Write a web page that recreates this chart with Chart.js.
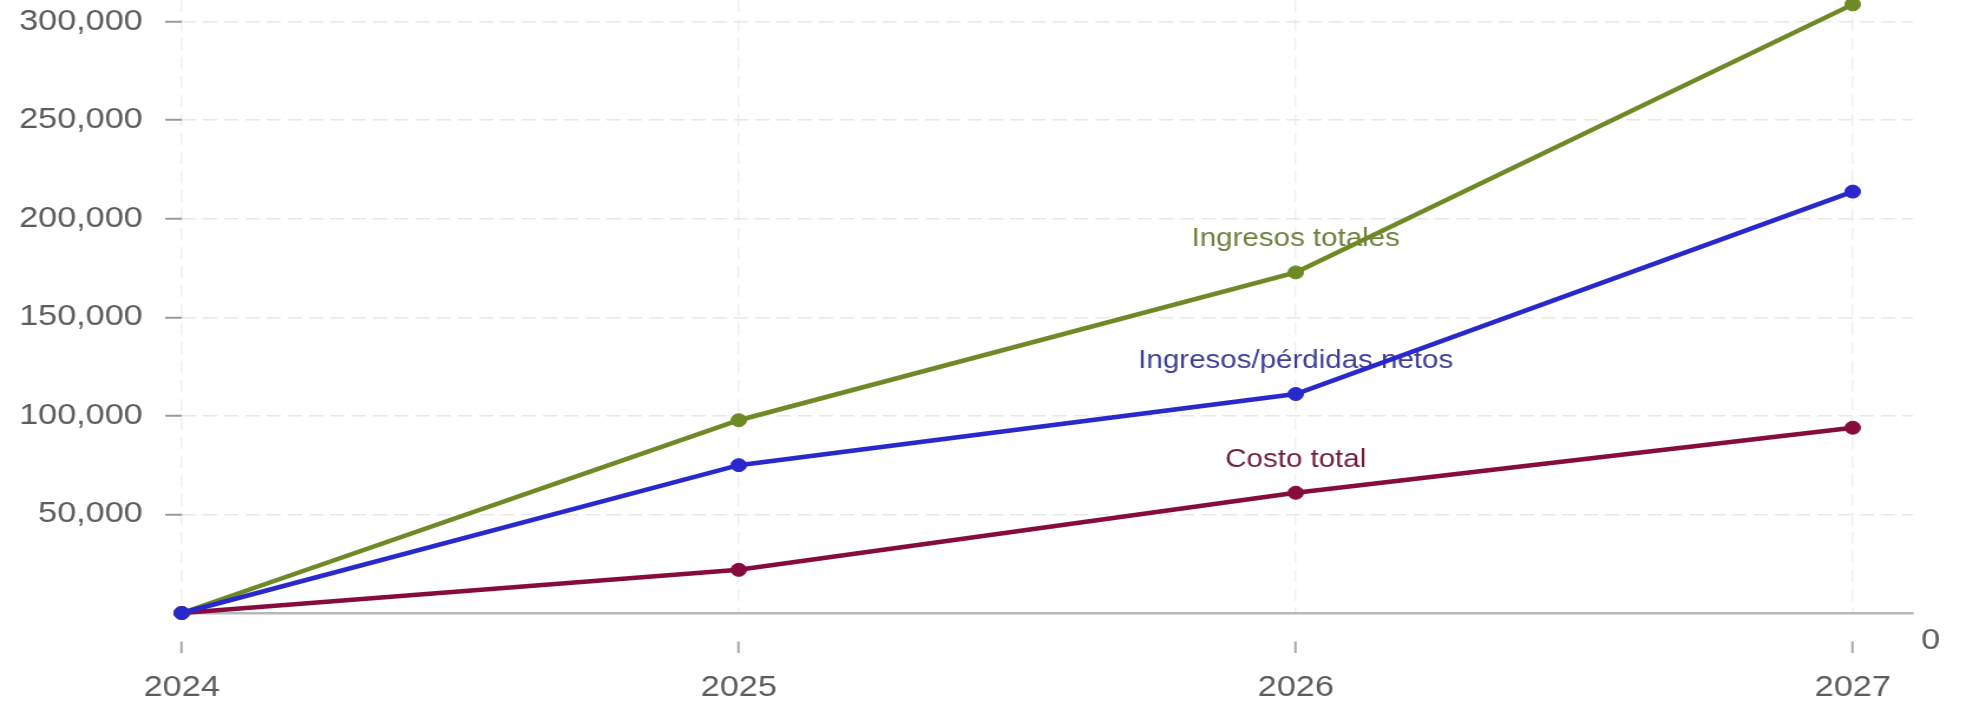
<!DOCTYPE html>
<html>
<head>
<meta charset="utf-8">
<script src="https://cdn.jsdelivr.net/npm/chart.js@4.4.0/dist/chart.umd.min.js"></script>
<style>
  html, body { margin: 0; padding: 0; background: #fff; }
</style>
</head>
<body>
<!-- canvas is drawn narrower and widened by its style -->
<canvas id="myLineChart" width="1666" height="708" style="display:block;width:1966px;height:708px"></canvas>
<script>
const years = [2024, 2025, 2026, 2027];
const ingresosNetos = [0, 75000, 111100, 213800];
const ingresosTotales = [0, 97800, 172800, 308800];
const costoTotal = [0, 21900, 61000, 94000];
const seriesNames = ['Ingresos/pérdidas netos', 'Ingresos totales', 'Costo total'];
const yTicks = [0, 50000, 100000, 150000, 200000, 250000, 300000];
const lineColors = ['rgb(40, 40, 205)', 'rgb(110, 138, 38)', 'rgb(135, 12, 62)'];
const textColors = ['rgb(62, 62, 150)', 'rgb(110, 130, 62)', 'rgb(112, 30, 62)'];
const zeroLabel = '0';
const labelAt = 2; // names sit above the 2026 point

Chart.defaults.font.family = '"Liberation Sans", Arial, sans-serif';
Chart.defaults.color = '#5c5c5c';

function toPoints(values) {
  return years.map((yr, i) => ({ x: yr, y: values[i] }));
}

const seriesValues = [ingresosNetos, ingresosTotales, costoTotal];
const datasets = seriesValues.map((vals, i) => ({
  label: seriesNames[i],
  data: toPoints(vals),
  borderColor: lineColors[i],
  backgroundColor: lineColors[i],
  labelColor: textColors[i],
  borderWidth: 4.5,
  pointRadius: 6.5,
  pointBorderWidth: 1,
  tension: 0,
  clip: false
}));

// series names written above one point of each line
const pointLabels = {
  id: 'pointLabels',
  beforeDatasetsDraw(chart) {
    const ctx = chart.ctx;
    chart.data.datasets.forEach((ds, i) => {
      const pt = chart.getDatasetMeta(i).data[labelAt];
      ctx.save();
      ctx.font = '25px "Liberation Sans", Arial, sans-serif';
      ctx.fillStyle = ds.labelColor;
      ctx.textAlign = 'center';
      ctx.textBaseline = 'middle';
      ctx.fillText(ds.label, pt.x, pt.y - 33);
      ctx.restore();
    });
  }
};

// the zero of the value axis is printed at the right end of the base line
const zeroTick = {
  id: 'zeroTick',
  afterDraw(chart) {
    const ctx = chart.ctx;
    const y0 = chart.scales.y.getPixelForValue(0);
    ctx.save();
    ctx.font = '29px "Liberation Sans", Arial, sans-serif';
    ctx.fillStyle = '#5c5c5c';
    ctx.textAlign = 'center';
    ctx.textBaseline = 'middle';
    ctx.fillText(zeroLabel, chart.chartArea.right + 15, y0 + 28);
    ctx.restore();
  }
};

var ctx = document.getElementById('myLineChart');

var myLineChart = new Chart(ctx, {
  type: 'line',
  data: { datasets: datasets },
  plugins: [pointLabels, zeroTick],
  options: {
    responsive: false,
    animation: false,
    devicePixelRatio: 1,
    layout: { autoPadding: false, padding: { top: 0, right: 45, bottom: 0, left: 0 } },
    plugins: {
      legend: { display: false },
      tooltip: { enabled: false }
    },
    scales: {
      x: {
        type: 'linear',
        min: 2024,
        max: 2027.108,
        afterFit: (scale) => {
          scale.height = 95;
          scale.paddingLeft = 0;
          scale.paddingRight = 0;
        },
        // in v4 the grid dash lives under border
        border: { display: true, color: '#b8b8b8', width: 2.5, dash: [12, 7] },
        grid: {
          color: '#efefef',
          lineWidth: 1.5,
          tickLength: 40,
          tickColor: '#a8a8a8',
          tickWidth: 2,
          tickBorderDash: [0, 27, 13, 100]
        },
        ticks: {
          stepSize: 1,
          includeBounds: false,
          padding: 18,
          font: { size: 29 },
          callback: (v) => String(v)
        }
      },
      y: {
        min: 0,
        max: 311000,
        afterFit: (scale) => {
          scale.width = 154;
          scale.paddingTop = 0;
          scale.paddingBottom = 0;
        },
        afterBuildTicks: (scale) => { scale.ticks = yTicks.map((v) => ({ value: v })); },
        border: { display: false, dash: [12, 6] },
        grid: {
          color: (c) => c.tick && c.tick.value === 0 ? 'rgba(0,0,0,0)' : '#e8e8e8',
          lineWidth: 1.5,
          tickLength: 14,
          tickWidth: 2,
          tickColor: (c) => c.tick && c.tick.value === 0 ? 'rgba(0,0,0,0)' : '#9a9a9a'
        },
        ticks: {
          padding: 19,
          font: { size: 29 },
          callback: (v) => v === 0 ? '' : v.toLocaleString('en-US')
        }
      }
    }
  }
});
</script>
</body>
</html>
